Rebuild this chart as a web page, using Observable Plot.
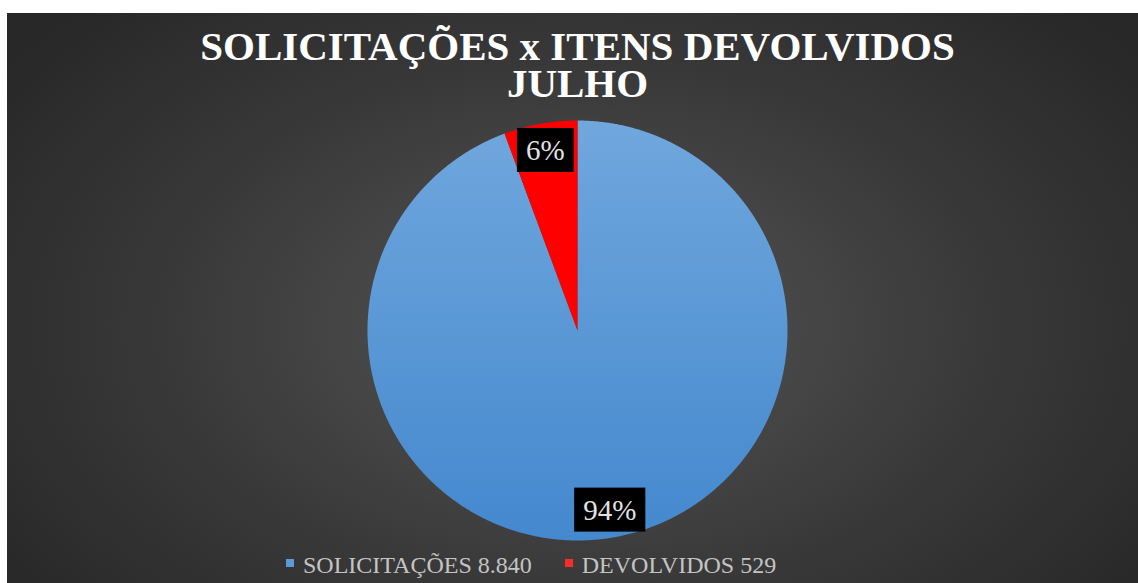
<!DOCTYPE html>
<html>
<head>
<meta charset="utf-8">
<script src="https://cdn.jsdelivr.net/npm/d3@7"></script>
<script src="https://cdn.jsdelivr.net/npm/@observablehq/plot@0.6"></script>
<style>
  html, body { margin: 0; padding: 0; background: #ffffff; width: 1138px; height: 583px; overflow: hidden; }
  #panel {
    position: absolute; left: 7px; top: 13px; width: 1131px; height: 570px;
    background: radial-gradient(ellipse 62% 78% at 50.5% 55%, #565656 0%, #474747 30%, #383838 60%, #282828 100%);
  }
  .tline {
    position: absolute; left: 0; width: 1155px; text-align: center;
    font-family: "Liberation Serif", "Times New Roman", serif; font-weight: bold;
    font-size: 41px; line-height: 34px; height: 34px; color: #ffffff; white-space: nowrap;
  }
  #chart { position: absolute; left: 7px; top: 108px; }
  #legend {
    position: absolute; left: 286px; top: 552px; display: flex; align-items: center;
    font-family: "Liberation Serif", "Times New Roman", serif; font-size: 24px; color: #c4c4c4;
    white-space: nowrap;
  }
  .sw { display: inline-block; width: 8px; height: 8px; margin-right: 9px; margin-top: -6px; }
  .item { display: flex; align-items: center; margin-right: 33px; }
</style>
</head>
<body>
<div id="panel"></div>
<div id="title"></div>
<div id="chart"></div>
<div id="legend"></div>
<script>
// ---- data ----
const titleLines = ["SOLICITAÇÕES x ITENS DEVOLVIDOS", "JULHO"];
const categories = ["SOLICITAÇÕES", "DEVOLVIDOS"];
const values = [8840, 529];
const legendValues = ["8.840", "529"];
const percentLabels = ["94%", "6%"];
const colors = ["url(#blueGrad)", "#ff0000"];
const swatchColors = ["#5b9bd5", "#ff2a2a"];

// ---- title ----
const titleEl = document.getElementById("title");
titleLines.forEach((t, i) => {
  const d = document.createElement("div");
  d.className = "tline";
  d.style.top = (29 + i * 37) + "px";
  d.textContent = t;
  titleEl.appendChild(d);
});

// ---- legend ----
const legend = document.getElementById("legend");
categories.forEach((c, i) => {
  const item = document.createElement("div");
  item.className = "item";
  item.innerHTML = `<span class="sw" style="background:${swatchColors[i]}"></span><span>${c} ${legendValues[i]}</span>`;
  legend.appendChild(item);
});

// ---- pie geometry from data ----
const pie = d3.pie().sort(null).value(d => d)(values);
const pts = [];
pie.forEach((s, i) => {
  const n = Math.max(2, Math.ceil((s.endAngle - s.startAngle) / 0.005));
  pts.push({cat: categories[i], x: 0, y: 0});
  for (let k = 0; k <= n; k++) {
    const a = s.startAngle + (s.endAngle - s.startAngle) * k / n;
    pts.push({cat: categories[i], x: Math.sin(a), y: Math.cos(a)});
  }
  pts.push({cat: categories[i], x: 0, y: 0});
});
const labels = pie.map((s, i) => {
  const a = (s.startAngle + s.endAngle) / 2;
  return {label: percentLabels[i], x: 0.87 * Math.sin(a), y: 0.87 * Math.cos(a)};
});

const W = 1131, H = 440, R = 210, cx = 570, cy = 222;
const plot = Plot.plot({
  width: W, height: H, margin: 0,
  x: {domain: [-cx / R, (W - cx) / R], axis: null},
  y: {domain: [-(H - cy) / R, cy / R], axis: null},
  style: {background: "transparent", overflow: "visible"},
  marks: [
    ...categories.map((c, i) => Plot.line(pts.filter(p => p.cat === c), {
      x: "x", y: "y", fill: colors[i], stroke: "none", curve: "linear"
    })),
    Plot.text(labels, {
      x: "x", y: "y", text: "label", fill: "#e2e2e2",
      fontSize: 29, fontFamily: "'Liberation Serif', 'Times New Roman', serif",
      className: "pctlabel"
    })
  ]
});

const svgNS = "http://www.w3.org/2000/svg";
const defs = document.createElementNS(svgNS, "defs");
defs.innerHTML = `<linearGradient id="blueGrad" gradientUnits="userSpaceOnUse" x1="0" y1="${cy - R}" x2="0" y2="${cy + R}">
  <stop offset="0" stop-color="#70a7dd"/><stop offset="1" stop-color="#4488ce"/></linearGradient>`;
plot.insertBefore(defs, plot.firstChild);
document.getElementById("chart").appendChild(plot);

// black boxes behind percentage labels
plot.querySelectorAll(".pctlabel text").forEach(t => {
  const b = t.getBBox();
  const r = document.createElementNS(svgNS, "rect");
  const padX = 9, padY = 6;
  r.setAttribute("x", b.x - padX);
  r.setAttribute("y", b.y - padY);
  r.setAttribute("width", b.width + 2 * padX);
  r.setAttribute("height", b.height + 2 * padY);
  r.setAttribute("fill", "#000");
  const tr = t.getAttribute("transform");
  if (tr) r.setAttribute("transform", tr);
  t.parentNode.insertBefore(r, t);
});
</script>
</body>
</html>
